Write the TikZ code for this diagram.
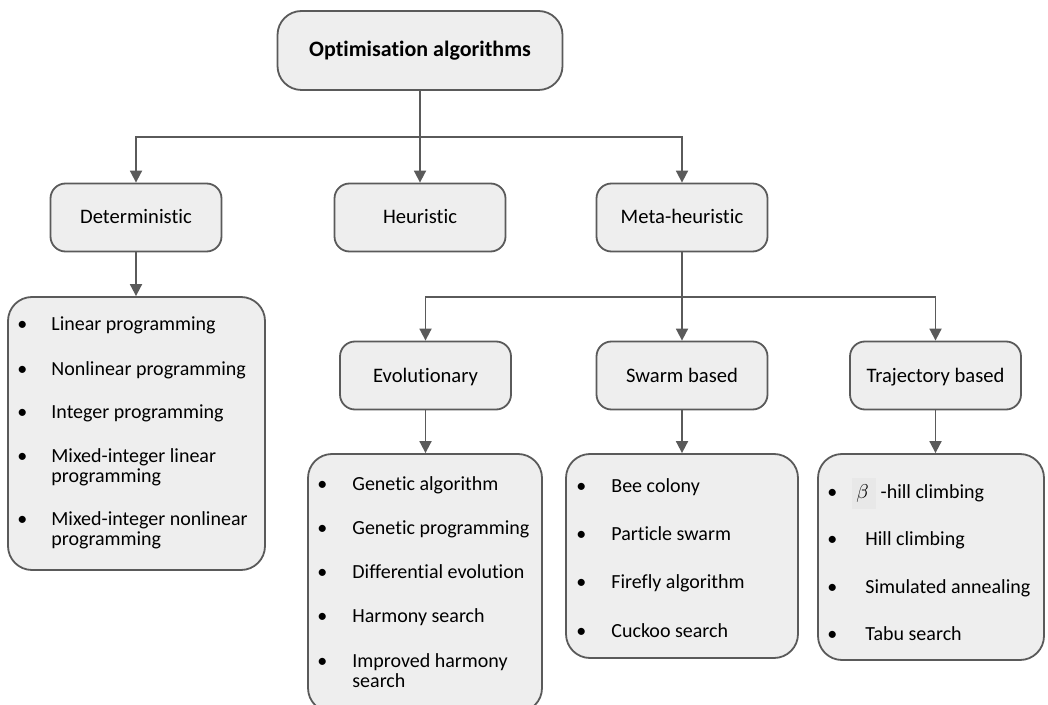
\documentclass[tikz,border=0pt]{standalone}
\usepackage{fontspec}
\setmainfont{Carlito}[Ligatures=NoCommon]
\usetikzlibrary{arrows.meta}
\definecolor{linegray}{HTML}{5A5A5A}
\definecolor{boxgray}{HTML}{EEEEEE}
\newcommand{\bul}[1]{\makebox[#1][l]{\textbullet}}
\tikzset{
  box/.style={draw=linegray, line width=0.9pt, fill=boxgray, rounded corners=7.5pt,
    minimum width=85.5pt, minimum height=34pt, inner sep=0pt, text height=7.5pt, text depth=1pt,
    font=\fontsize{10.3}{10}\selectfont},
  topbox/.style={box, rounded corners=12pt, minimum width=142.5pt, minimum height=39.5pt,
    font=\fontsize{11}{12}\selectfont\bfseries},
  listbox/.style={draw=linegray, line width=0.9pt, fill=boxgray, rounded corners=12pt, inner sep=0pt},
  item/.style={anchor=base west, inner sep=0pt, font=\fontsize{10}{10}\selectfont},
  arr/.style={draw=linegray, line width=0.9pt, -{Triangle[width=6pt,length=6pt]}}
}

\begin{document}
\begin{tikzpicture}[x=0.5pt, y=-0.5pt]
\useasboundingbox (0,0) rectangle (1048,705);
% first level
\node[topbox] (top) at (420,50.5) {Optimisation algorithms};
\node[box] (det) at (136,217.5) {Deterministic};
\node[box] (heur) at (420,217.5) {Heuristic};
\node[box] (meta) at (682,217.5) {Meta-heuristic};
\coordinate (split1) at (420,137);
\draw[arr] (top.south) -- (heur.north);
\draw[arr] (split1) -| (det.north);
\draw[arr] (split1) -| (meta.north);

% meta-heuristic families
\node[box] (evo) at (425.5,375.5) {Evolutionary};
\node[box] (swarm) at (682,375.5) {Swarm based};
\node[box] (traj) at (935.5,375.5) {Trajectory based};
\coordinate (split2) at (682,297);
\draw[arr] (meta.south) -- (swarm.north);
\draw[arr] (split2) -| (evo.north);
\draw[arr] (split2) -| (traj.north);

% list boxes
\node[listbox, minimum width=128.5pt, minimum height=136.5pt] (detlist) at (136.5,433.5) {};
\node[listbox, minimum width=117pt, minimum height=129pt] (evolist) at (425,583) {};
\node[listbox, minimum width=116pt, minimum height=102pt] (swarmlist) at (682,556) {};
\node[listbox, minimum width=113pt, minimum height=103pt] (trajlist) at (931,557) {};
\draw[arr] (det.south) -- (det.south |- detlist.north);
\draw[arr] (evo.south) -- (evo.south |- evolist.north);
\draw[arr] (swarm.south) -- (swarm.south |- swarmlist.north);
\draw[arr] (traj.south) -- (traj.south |- trajlist.north);

% deterministic methods
\node[item] (d1) at (17,330.5) {\bul{17pt}Linear programming};
\node[item] (d2) at (17,375.5) {\bul{17pt}Nonlinear programming};
\node[item] (d3) at (17,418.5) {\bul{17pt}Integer programming};
\node[item] (d4) at (17,462.5) {\bul{17pt}\parbox[t]{110pt}{Mixed-integer linear\\programming}};
\node[item] (d5) at (17,525.5) {\bul{17pt}\parbox[t]{110pt}{Mixed-integer nonlinear\\programming}};

% evolutionary
\node[item] (e1) at (317,490.5) {\bul{17.5pt}Genetic algorithm};
\node[item] (e2) at (317,534.5) {\bul{17.5pt}Genetic programming};
\node[item] (e3) at (317,578.5) {\bul{17.5pt}Differential evolution};
\node[item] (e4) at (317,622.5) {\bul{17.5pt}Harmony search};
\node[item] (e5) at (317,667.5) {\bul{17.5pt}\parbox[t]{95pt}{Improved harmony\\search}};

% swarm based
\node[item] (s1) at (576,492.5) {\bul{17.5pt}Bee colony};
\node[item] (s2) at (576,540.5) {\bul{17.5pt}Particle swarm};
\node[item] (s3) at (576,588.5) {\bul{17.5pt}Firefly algorithm};
\node[item] (s4) at (576,637.5) {\bul{17.5pt}Cuckoo search};

% trajectory based
\node[item] (t1) at (827,498.5) {\bul{12.5pt}{\setlength{\fboxsep}{2pt}\colorbox{gray!18}{\rule[-3pt]{0pt}{11.5pt}$\beta$\,}} -hill climbing};
\node[item] (t2) at (827,545.5) {\bul{19pt}Hill climbing};
\node[item] (t3) at (827,593.5) {\bul{19pt}Simulated annealing};
\node[item] (t4) at (827,640.5) {\bul{19pt}Tabu search};
\end{tikzpicture}
\end{document}
